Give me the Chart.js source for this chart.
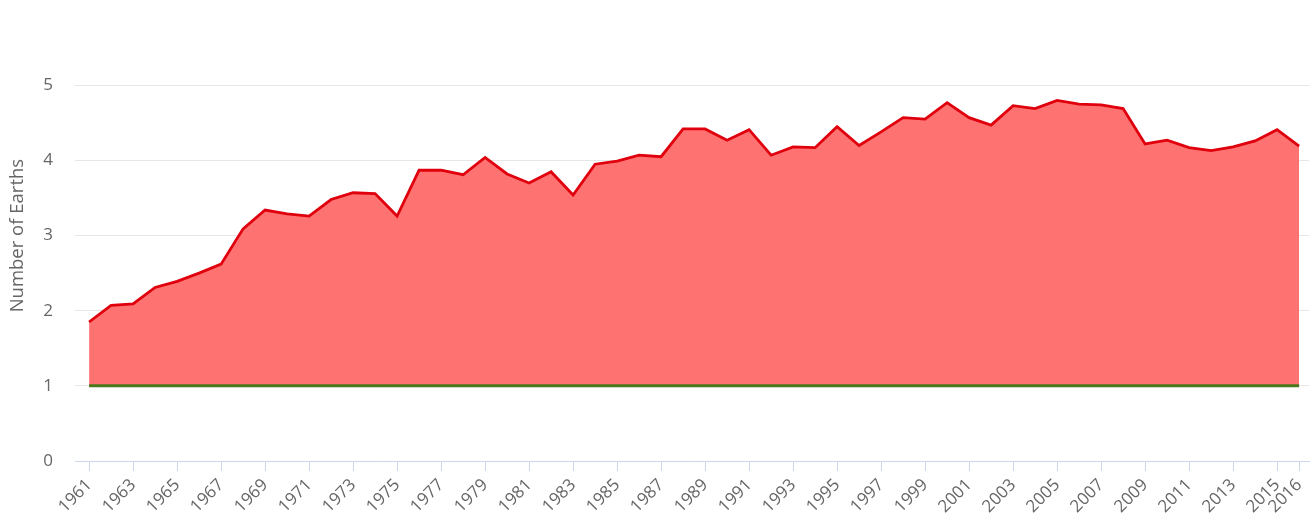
<!DOCTYPE html>
<html>
<head>
<meta charset="utf-8">
<script src="https://cdn.jsdelivr.net/npm/chart.js@4/dist/chart.umd.min.js"></script>
<style>
  html, body { margin: 0; padding: 0; background: #fff; }
  #wrap { width: 1312px; height: 513px; }
</style>
</head>
<body>
<div id="wrap"><canvas id="chart"></canvas></div>
<script>
// years of the footprint series
const years = [1961, 1962, 1963, 1964, 1965, 1966, 1967, 1968, 1969, 1970,
  1971, 1972, 1973, 1974, 1975, 1976, 1977, 1978, 1979, 1980,
  1981, 1982, 1983, 1984, 1985, 1986, 1987, 1988, 1989, 1990,
  1991, 1992, 1993, 1994, 1995, 1996, 1997, 1998, 1999, 2000,
  2001, 2002, 2003, 2004, 2005, 2006, 2007, 2008, 2009, 2010,
  2011, 2012, 2013, 2014, 2015, 2016];

// number of Earths needed
const earthsNeeded = [1.85, 2.07, 2.09, 2.31, 2.39, 2.50, 2.62, 3.09, 3.34, 3.29,
  3.26, 3.48, 3.57, 3.56, 3.26, 3.87, 3.87, 3.81, 4.04, 3.82,
  3.70, 3.85, 3.54, 3.95, 3.99, 4.07, 4.05, 4.42, 4.42, 4.27,
  4.41, 4.07, 4.18, 4.17, 4.45, 4.20, 4.38, 4.57, 4.55, 4.77,
  4.57, 4.47, 4.73, 4.69, 4.80, 4.75, 4.74, 4.69, 4.22, 4.27,
  4.17, 4.13, 4.18, 4.26, 4.41, 4.19];

// the one Earth we actually have
const earthsAvailable = [1, 1, 1, 1, 1, 1, 1, 1, 1, 1,
  1, 1, 1, 1, 1, 1, 1, 1, 1, 1,
  1, 1, 1, 1, 1, 1, 1, 1, 1, 1,
  1, 1, 1, 1, 1, 1, 1, 1, 1, 1,
  1, 1, 1, 1, 1, 1, 1, 1, 1, 1,
  1, 1, 1, 1, 1, 1];

// labels shown on the axes
const tickYears = [1961, 1963, 1965, 1967, 1969, 1971, 1973, 1975, 1977, 1979,
  1981, 1983, 1985, 1987, 1989, 1991, 1993, 1995, 1997, 1999,
  2001, 2003, 2005, 2007, 2009, 2011, 2013, 2015, 2016];
const yTicks = [0, 1, 2, 3, 4, 5];

const toPoints = (vals) => years.map((yr, i) => ({x: yr, y: vals[i]}));

const fontFam = '"Open Sans", "DejaVu Sans", sans-serif';

let ctx = document.getElementById('chart');
let chart = new Chart(ctx, {
  type: 'line',
  data: {
    datasets: [{
      label: 'Earth',
      data: toPoints(earthsAvailable),
      borderColor: '#4a781c',
      borderWidth: 3,
      pointRadius: 0,
      tension: 0,
      fill: false
    }, {
      label: 'Number of Earths',
      data: toPoints(earthsNeeded),
      borderColor: '#e0000d',
      backgroundColor: '#ff7272',
      borderWidth: 2.8,
      pointRadius: 0,
      tension: 0,
      fill: '-1'
    }]
  },
  options: {
    responsive: true,
    maintainAspectRatio: false,
    animation: false,
    layout: { padding: { top: -1.5, right: 3, left: 0, bottom: 0 } },
    plugins: {
      legend: { display: false },
      tooltip: { enabled: false }
    },
    scales: {
      x: {
        type: 'linear',
        min: 1960.36,
        max: 2016.45,
        afterBuildTicks: (axis) => { axis.ticks = tickYears.map(v => ({value: v})); },
        afterFit: (s) => { s.height = 52; s.paddingRight = 0; },
        ticks: {
          autoSkip: false,
          maxRotation: 45,
          minRotation: 45,
          padding: 4,
          color: '#666',
          font: { family: fontFam, size: 17 },
          callback: (v) => String(v)
        },
        grid: { drawOnChartArea: false, drawTicks: true, tickLength: 10, color: '#ccd6eb' },
        border: { display: true, color: '#ccd6eb', width: 1 }
      },
      y: {
        min: 0,
        max: 6,
        afterBuildTicks: (axis) => { axis.ticks = yTicks.map(v => ({value: v})); },
        afterFit: (s) => { s.width = 75; },
        ticks: {
          padding: 0,
          color: '#666',
          font: { family: fontFam, size: 17 },
          callback: (v) => String(v)
        },
        grid: {
          drawTicks: true,
          tickLength: 22,
          tickColor: 'rgba(0,0,0,0)',
          color: '#e6e6e6'
        },
        border: { display: false },
        title: {
          display: true,
          text: 'Number of Earths',
          color: '#666',
          font: { family: fontFam, size: 18.5 },
          padding: { top: 7, bottom: 0 }
        }
      }
    }
  }
});
</script>
</body>
</html>
